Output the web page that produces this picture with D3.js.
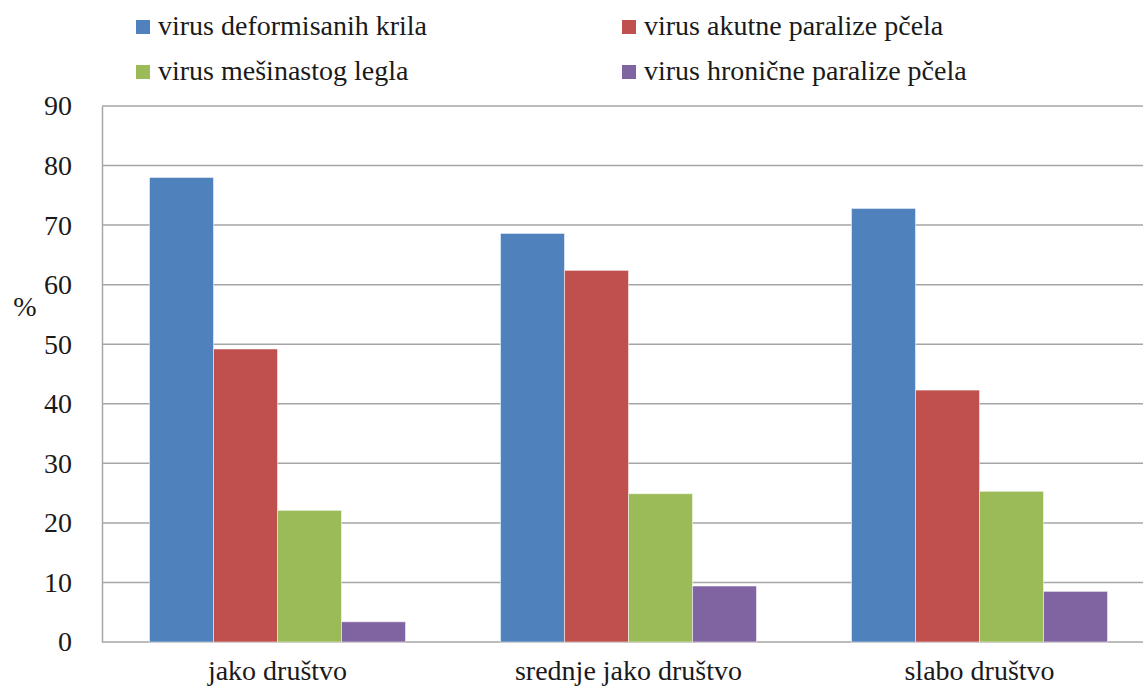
<!DOCTYPE html>
<html>
<head>
<meta charset="utf-8">
<script src="https://cdn.jsdelivr.net/npm/d3@7"></script>
</head>
<body style="margin:0">
<svg id="chart" width="1143" height="686"></svg>
<script>
// --- data ---
var categories = ["jako društvo", "srednje jako društvo", "slabo društvo"];
var series = ["virus deformisanih krila", "virus akutne paralize pčela", "virus mešinastog legla", "virus hronične paralize pčela"];
var deformisanih = [78.0, 68.6, 72.8];
var akutne = [49.2, 62.4, 42.3];
var mesinastog = [22.1, 24.9, 25.3];
var hronicne = [3.4, 9.4, 8.5];
var yTicks = [0, 10, 20, 30, 40, 50, 60, 70, 80, 90];
var colors = ["#4f81bd", "#c0504d", "#9bbb59", "#8064a2"];

var values = [deformisanih, akutne, mesinastog, hronicne];

var FONT = "'Liberation Serif'";
var TEXT_COL = "#1a1a1a";

var svg = d3.select("#chart");
var plotLeft = 102, plotRight = 1155, plotTop = 106, plotBottom = 642;

var y = d3.scaleLinear().domain([0, 90]).range([plotBottom, plotTop]);
var x0 = d3.scaleBand().domain(categories).range([plotLeft, plotRight]);
var x1 = d3.scaleBand().domain(series).range([47.5, x0.bandwidth() - 47.5]);
var color = d3.scaleOrdinal().domain(series).range(colors);

// gridlines
svg.append("g").selectAll("line")
  .data(yTicks)
  .enter().append("line")
  .attr("x1", plotLeft).attr("x2", plotRight)
  .attr("y1", function(d) { return y(d); })
  .attr("y2", function(d) { return y(d); })
  .attr("stroke", "#a6a6a6")
  .attr("stroke-width", 1.5);

// left axis
var yAxis = d3.axisLeft(y).tickValues(yTicks).tickSize(0).tickPadding(30);
var gy = svg.append("g").attr("transform", "translate(" + plotLeft + ",0)").call(yAxis)
  .attr("font-family", "Liberation Serif").attr("font-size", 28);
gy.select(".domain").attr("stroke", "#a6a6a6").attr("stroke-width", 1.5);
gy.selectAll("text").attr("fill", TEXT_COL)
  .attr("font-size", 28).style("font-family", FONT);

// bars
var groups = svg.append("g").selectAll("g")
  .data(categories)
  .enter().append("g")
  .attr("transform", function(d) { return "translate(" + x0(d) + ",0)"; });

groups.selectAll("rect")
  .data(function(c, i) { return series.map(function(s, j) { return { s: s, v: values[j][i] }; }); })
  .enter().append("rect")
  .attr("x", function(d) { return x1(d.s); })
  .attr("width", x1.bandwidth())
  .attr("y", function(d) { return y(d.v); })
  .attr("height", function(d) { return plotBottom - y(d.v); })
  .attr("fill", function(d) { return color(d.s); })
  .attr("stroke", "rgba(255,255,255,0.5)")
  .attr("stroke-width", 1);

// category labels
var xAxis = d3.axisBottom(x0).tickSize(0).tickPadding(18);
var gx = svg.append("g").attr("transform", "translate(0," + plotBottom + ")").call(xAxis)
  .attr("font-family", "Liberation Serif").attr("font-size", 28);
gx.select(".domain").remove();
gx.selectAll("text").attr("fill", TEXT_COL)
  .attr("font-size", 28).style("font-family", FONT);

// y label
svg.append("text")
  .attr("x", 25).attr("y", 316)
  .attr("text-anchor", "middle")
  .attr("font-size", 28)
  .attr("fill", TEXT_COL)
  .style("font-family", FONT)
  .text("%");

// legend
var legendPos = [[136, 27], [622, 27], [136, 72], [622, 72]];
svg.append("g").selectAll("rect")
  .data(series)
  .enter().append("rect")
  .attr("x", function(d, i) { return legendPos[i][0]; })
  .attr("y", function(d, i) { return legendPos[i][1] - 7; })
  .attr("width", 14).attr("height", 14)
  .attr("fill", function(d) { return color(d); });
series.forEach(function(d, i) {
  svg.append("text")
    .attr("x", legendPos[i][0] + 22).attr("y", legendPos[i][1] + 8)
    .attr("font-size", 28)
    .attr("fill", TEXT_COL)
    .style("font-family", FONT)
    .text(d);
});
</script>
</body>
</html>
